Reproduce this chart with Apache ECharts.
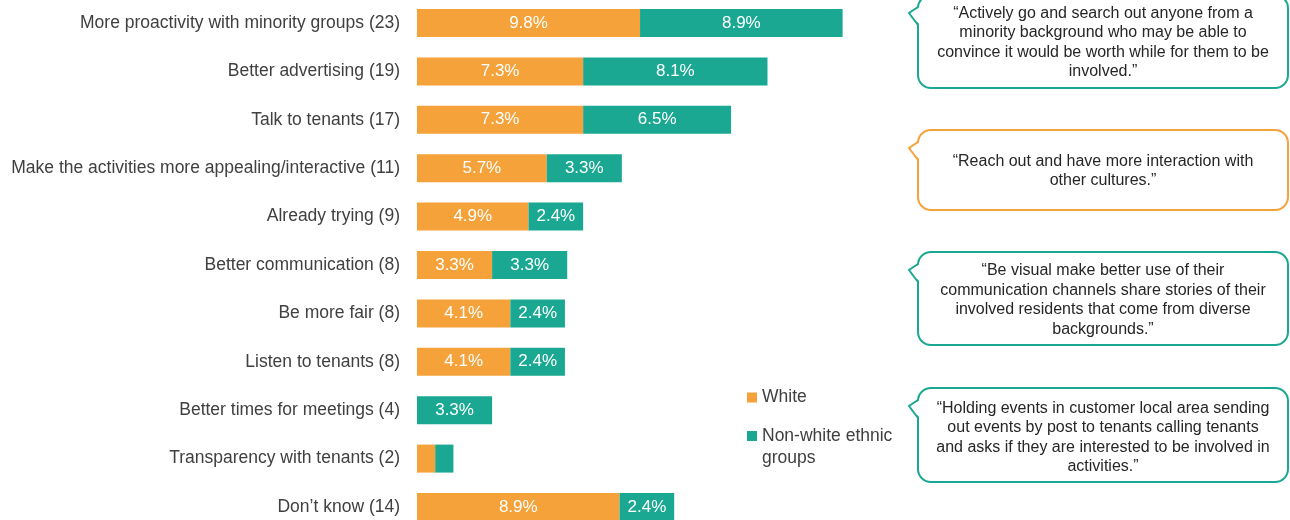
<!DOCTYPE html>
<html>
<head>
<meta charset="utf-8">
<script src="https://cdn.jsdelivr.net/npm/echarts@6/dist/echarts.min.js"></script>
<style>
  html, body { margin: 0; padding: 0; background: #ffffff; }
  #chart { width: 1290px; height: 520px; }
</style>
</head>
<body>
<div id="chart"></div>
<script>
// Suggestions for improving involvement, split by ethnic group (% of respondents)
const categories = [
  'More proactivity with minority groups (23)',
  'Better advertising (19)',
  'Talk to tenants (17)',
  'Make the activities more appealing/interactive (11)',
  'Already trying (9)',
  'Better communication (8)',
  'Be more fair (8)',
  'Listen to tenants (8)',
  'Better times for meetings (4)',
  'Transparency with tenants (2)',
  'Don\u2019t know (14)'
];
const whiteValues    = [9.8, 7.3, 7.3, 5.7, 4.9, 3.3, 4.1, 4.1, 0, 0.8, 8.9];
const nonWhiteValues = [8.9, 8.1, 6.5, 3.3, 2.4, 3.3, 2.4, 2.4, 3.3, 0.8, 2.4];
const seriesNames = ['White', 'Non-white ethnic groups'];

const quotes = [
  '\u201CActively go and search out anyone from a\nminority background who may be able to\nconvince it would be worth while for them to be\ninvolved.\u201D',
  '\u201CReach out and have more interaction with\nother cultures.\u201D',
  '\u201CBe visual make better use of their\ncommunication channels share stories of their\ninvolved residents that come from diverse\nbackgrounds.\u201D',
  '\u201CHolding events in customer local area sending\nout events by post to tenants calling tenants\nand asks if they are interested to be involved in\nactivities.\u201D'
];

const ORANGE = '#F5A23A';
const TEAL = '#1BA892';
const TEXT = '#404040';
const FONT = '"Liberation Sans", Arial, sans-serif';

const boxes = [
  { top: -5,  bottom: 88,  color: TEAL,   textY: 42.5 },
  { top: 130, bottom: 210, color: ORANGE, textY: 171 },
  { top: 252, bottom: 345, color: TEAL,   textY: 300 },
  { top: 388, bottom: 482, color: TEAL,   textY: 437.5 }
];

// Speech bubbles: rounded box, a white wedge hiding part of its left edge, and the pointer outline
const BOX_L = 918, BOX_R = 1288, RADIUS = 13;
const graphics = [];
boxes.forEach((b, i) => {
  const tipX = BOX_L - 9, tipY = b.top + 18, j1 = b.top + 12, j2 = b.top + 30;
  graphics.push({
    type: 'rect',
    shape: { x: BOX_L, y: b.top, width: BOX_R - BOX_L, height: b.bottom - b.top, r: RADIUS },
    style: { fill: '#ffffff', stroke: b.color, lineWidth: 2 },
    z: 10
  });
  graphics.push({
    type: 'polygon',
    shape: { points: [[BOX_L + 2, j1], [tipX, tipY], [BOX_L + 2, j2]] },
    style: { fill: '#ffffff' },
    z: 11
  });
  graphics.push({
    type: 'polyline',
    shape: { points: [[BOX_L, j1], [tipX, tipY], [BOX_L, j2]] },
    style: { stroke: b.color, lineWidth: 2, fill: null, lineJoin: 'miter' },
    z: 12
  });
  graphics.push({
    type: 'text',
    x: 1103, y: b.textY,
    style: {
      text: quotes[i],
      fill: '#262626',
      font: '16px ' + FONT,
      lineHeight: 19.5,
      align: 'center',
      verticalAlign: 'middle'
    },
    z: 13
  });
});

function barLabel() {
  return {
    show: true,
    position: 'inside',
    color: '#ffffff',
    fontSize: 17,
    fontFamily: FONT,
    formatter: p => (p.value >= 2 ? p.value.toFixed(1) + '%' : '')
  };
}

const chart = echarts.init(document.getElementById('chart'), null, { renderer: 'canvas' });
chart.setOption({
  animation: false,
  backgroundColor: '#ffffff',
  grid: {
    left: 417, width: 455.2, top: -1.2, height: 532.4,
    containLabel: false, outerBoundsMode: 'none'
  },
  xAxis: { type: 'value', min: 0, max: 20, show: false },
  yAxis: {
    type: 'category',
    data: categories,
    inverse: true,
    axisLine: { show: false },
    axisTick: { show: false },
    splitLine: { show: false },
    axisLabel: { color: TEXT, fontSize: 17.5, fontFamily: FONT, margin: 17 }
  },
  legend: [
    {
      data: [seriesNames[0]],
      left: 747, top: 386.5, padding: 0,
      icon: 'rect', itemWidth: 10, itemHeight: 10, itemGap: 0,
      selectedMode: false,
      textStyle: { color: TEXT, fontSize: 17.5, fontFamily: FONT, lineHeight: 22 }
    },
    {
      data: [seriesNames[1]],
      left: 747, top: 403, padding: 0,
      icon: 'rect', itemWidth: 10, itemHeight: 10, itemGap: 0,
      selectedMode: false,
      formatter: () => ' \nNon-white ethnic\ngroups',
      textStyle: { color: TEXT, fontSize: 17.5, fontFamily: FONT, lineHeight: 22 }
    }
  ],
  graphic: graphics,
  series: [
    {
      name: seriesNames[0], type: 'bar', stack: 'total',
      data: whiteValues, barWidth: 28,
      itemStyle: { color: ORANGE },
      label: barLabel()
    },
    {
      name: seriesNames[1], type: 'bar', stack: 'total',
      data: nonWhiteValues, barWidth: 28,
      itemStyle: { color: TEAL },
      label: barLabel()
    }
  ]
});
</script>
</body>
</html>
